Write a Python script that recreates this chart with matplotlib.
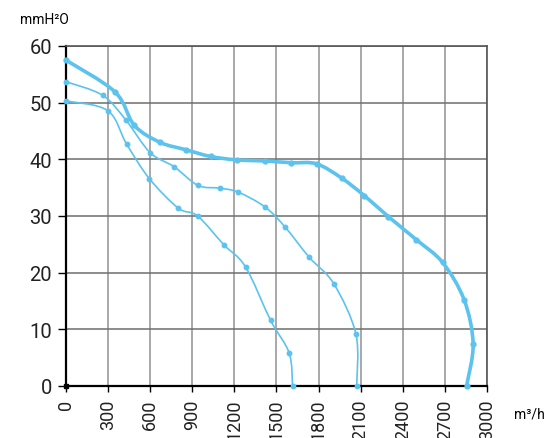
import numpy as np
import matplotlib.pyplot as plt
from matplotlib.path import Path
from matplotlib.patches import PathPatch

# Fan curves: airflow (m3/h) vs static pressure (mmH2O)
flow_a = [0, 349, 487, 670, 853, 1031, 1216, 1418, 1605, 1786, 1964, 2126, 2297, 2498, 2684, 2838, 2902, 2855]
pres_a = [57.5, 51.9, 46.0, 43.0, 41.7, 40.5, 39.9, 39.7, 39.4, 39.2, 36.7, 33.6, 29.9, 25.8, 21.8, 15.2, 7.4, 0]

flow_b = [0, 261, 425, 599, 770, 941, 1097, 1228, 1418, 1560, 1734, 1910, 2067, 2072]
pres_b = [53.7, 51.3, 47.0, 41.2, 38.7, 35.4, 34.9, 34.2, 31.6, 28.1, 22.7, 18.0, 9.1, 0]

flow_c = [0, 297, 432, 594, 800, 938, 1126, 1280, 1458, 1591, 1615]
pres_c = [50.3, 48.6, 42.7, 36.6, 31.4, 30.0, 24.9, 21.0, 11.6, 5.8, 0]

x_ticks = [0, 300, 600, 900, 1200, 1500, 1800, 2100, 2400, 2700, 3000]
y_ticks = [0, 10, 20, 30, 40, 50, 60]

color = "#5bc3ee"
plt.rcParams['font.family'] = ['Roboto', 'DejaVu Sans']


def smooth_path(x, y, ax):
    # Catmull-Rom -> cubic bezier in display space so the curve looks even
    pts = ax.transData.transform(np.column_stack([x, y]))
    p = np.vstack([pts[0], pts, pts[-1]])
    verts = [pts[0]]
    codes = [Path.MOVETO]
    for i in range(1, len(p) - 2):
        c1 = p[i] + (p[i + 1] - p[i - 1]) / 6
        c2 = p[i + 1] - (p[i + 2] - p[i]) / 6
        verts += [c1, c2, p[i + 1]]
        codes += [Path.CURVE4] * 3
    verts = ax.transData.inverted().transform(np.array(verts))
    return Path(verts, codes)


fig = plt.figure(figsize=(5.59, 4.39), dpi=100)
ax = fig.add_axes([0.118, 0.1185, 0.753, 0.7745])
ax.set_xlim(0, 3000)
ax.set_ylim(0, 60)

for x, y, lw, ms in [(flow_a, pres_a, 2.6, 3.5), (flow_b, pres_b, 1.2, 3.2), (flow_c, pres_c, 1.2, 3.2)]:
    ax.add_patch(PathPatch(smooth_path(x, y, ax), fill=False, edgecolor=color, lw=lw, zorder=3, clip_on=False))
    ax.plot(x, y, "o", color=color, ms=ms, zorder=4, clip_on=False)

ax.plot([0], [0], "s", color="black", ms=3.5, zorder=5, clip_on=False)

ax.set_xticks(x_ticks)
ax.set_yticks(y_ticks)
ax.set_xticklabels([str(v) for v in x_ticks], rotation=90, fontsize=13, color="#222222")
ax.set_yticklabels([str(v) for v in y_ticks], fontsize=14.5, color="#222222",
                   family=['Liberation Sans Narrow', 'Roboto', 'DejaVu Sans'])
ax.tick_params(axis="y", direction="out", length=6, width=1, color="black", pad=4)
ax.tick_params(axis="x", direction="out", length=4, width=1, color="black", pad=5)

ax.xaxis.grid(True, color="#9a9a9a", lw=1.2)
ax.yaxis.grid(True, color="#6e6e6e", lw=1.1)
ax.set_axisbelow(True)

for side in ["left", "bottom"]:
    ax.spines[side].set_linewidth(1.6)
    ax.spines[side].set_color("black")
for side in ["top", "right"]:
    ax.spines[side].set_linewidth(1.2)
    ax.spines[side].set_color("#555555")

fig.text(0.036, 0.955, "mmH²O", fontsize=10, va="center", ha="left")
fig.text(0.92, 0.055, "m³/h", fontsize=10, va="center", ha="left")

plt.savefig("out.png", dpi=100)
